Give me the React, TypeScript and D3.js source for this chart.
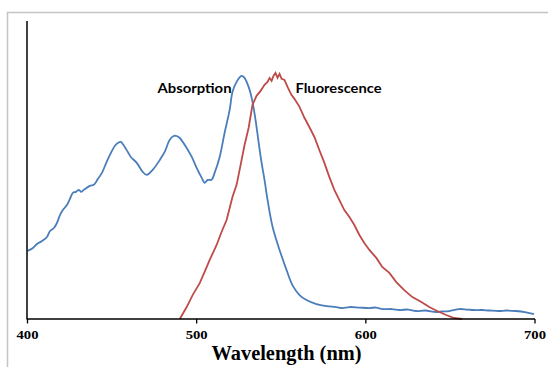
import React from "react";
import * as d3 from "d3";

const xTicks = [400, 500, 600, 700];

const absWavelength = [400, 403.2, 405.6, 408.6, 411.5, 413.3, 415.6, 417.4, 419.2, 420.9, 423.3, 425.1, 426.8, 428.6, 430.4, 431.6, 433.3, 436.9, 439.2, 441.6, 444.0, 446.3, 448.7, 451.6, 453.4, 455.2, 456.3, 459.3, 461.1, 464.6, 468.1, 470.5, 474.0, 478.2, 481.1, 484.0, 486.4, 488.2, 490.0, 494.1, 497.1, 500.0, 503.0, 504.7, 506.5, 508.8, 510.6, 513.6, 516.5, 519.5, 521.2, 523.6, 526.5, 528.3, 531.3, 533.0, 534.8, 536.6, 538.4, 540.1, 541.9, 544.9, 549.0, 553.1, 556.6, 560.8, 564.9, 570.8, 576.7, 582.6, 586.0, 590.3, 596.2, 602.1, 606.0, 610.0, 615.6, 620.0, 625.0, 629.8, 635.0, 641.6, 645.0, 649.3, 655.2, 660.0, 664.0, 668.7, 673.0, 678.8, 683.0, 688.8, 694.0, 699.4];
const absValue = [0.273, 0.285, 0.301, 0.313, 0.329, 0.353, 0.365, 0.385, 0.417, 0.437, 0.457, 0.482, 0.506, 0.510, 0.518, 0.510, 0.518, 0.534, 0.538, 0.562, 0.586, 0.622, 0.658, 0.694, 0.706, 0.710, 0.702, 0.670, 0.650, 0.626, 0.590, 0.578, 0.598, 0.638, 0.670, 0.718, 0.734, 0.734, 0.726, 0.686, 0.650, 0.606, 0.566, 0.546, 0.558, 0.558, 0.586, 0.650, 0.746, 0.839, 0.911, 0.951, 0.975, 0.967, 0.919, 0.871, 0.799, 0.710, 0.626, 0.558, 0.478, 0.369, 0.277, 0.197, 0.136, 0.096, 0.076, 0.060, 0.052, 0.048, 0.044, 0.048, 0.046, 0.044, 0.046, 0.040, 0.040, 0.036, 0.038, 0.032, 0.034, 0.028, 0.030, 0.032, 0.040, 0.038, 0.036, 0.036, 0.034, 0.032, 0.034, 0.032, 0.028, 0.020];

const fluWavelength = [490.0, 494.1, 497.6, 501.8, 504.7, 507.7, 511.8, 514.7, 517.7, 519.5, 521.2, 523.6, 525.4, 528.3, 530.7, 533.0, 535.4, 537.8, 540.1, 541.9, 543.1, 544.3, 545.4, 546.6, 547.8, 549.0, 550.2, 551.9, 553.7, 556.0, 557.8, 560.8, 563.7, 566.6, 569.6, 572.5, 575.5, 578.4, 581.4, 584.3, 587.3, 590.3, 593.2, 596.2, 599.1, 602.1, 606.2, 609.7, 613.9, 618.0, 622.7, 627.5, 632.8, 637.5, 642.2, 647.5, 652.2, 656.9];
const fluValue = [0, 0.048, 0.096, 0.144, 0.189, 0.237, 0.297, 0.349, 0.397, 0.445, 0.490, 0.538, 0.598, 0.698, 0.766, 0.859, 0.895, 0.915, 0.939, 0.951, 0.967, 0.955, 0.975, 0.987, 0.967, 0.983, 0.963, 0.959, 0.931, 0.899, 0.883, 0.851, 0.807, 0.770, 0.730, 0.678, 0.626, 0.570, 0.518, 0.478, 0.437, 0.409, 0.377, 0.337, 0.305, 0.277, 0.245, 0.209, 0.185, 0.148, 0.116, 0.088, 0.068, 0.048, 0.032, 0.016, 0.004, 0];

const labels = ["Absorption", "Fluorescence"];
const xTitle = "Wavelength (nm)";

export default function App() {
  const x = d3.scaleLinear().domain([400, 700]).range([27.5, 535]);
  const y = d3.scaleLinear().domain([0, 1.2]).range([319, 19.8]);

  const absData = absWavelength.map((w, i) => [w, absValue[i]] as [number, number]);
  const fluData = fluWavelength.map((w, i) => [w, fluValue[i]] as [number, number]);

  const absLine = d3
    .line<[number, number]>()
    .x((d) => x(d[0]))
    .y((d) => y(d[1]))
    .curve(d3.curveCatmullRom.alpha(0.5));
  const fluLine = d3
    .line<[number, number]>()
    .x((d) => x(d[0]))
    .y((d) => y(d[1]))
    .curve(d3.curveLinear);

  return (
    <div style={{ position: "absolute", left: 0, top: 0 }}>
      <svg width={548} height={367} style={{ display: "block" }}>
        <rect x={0} y={0} width={548} height={367} fill="#ffffff" />
        <rect x={7.5} y={12.5} width={560} height={370} fill="none" stroke="#c4c4c4" strokeWidth={1.5} />
        <path d={absLine(absData) || ""} fill="none" stroke="#4A7EBB" strokeWidth={1.8} />
        <path d={fluLine(fluData) || ""} fill="none" stroke="#BE4B48" strokeWidth={1.8} />
        <line x1={x(400) - 0.5} x2={x(400) - 0.5} y1={21} y2={y(0)} stroke="#000" strokeWidth={1.5} />
        <line x1={x(400) - 1} x2={x(700)} y1={y(0)} y2={y(0)} stroke="#000" strokeWidth={1.5} />
        {xTicks.map((t) => (
          <g key={t}>
            <line x1={x(t)} x2={x(t)} y1={y(0)} y2={y(0) + 4.5} stroke="#000" strokeWidth={1.3} />
            <text
              x={x(t)}
              y={339}
              textAnchor="middle"
              fontFamily="'Liberation Serif', 'Times New Roman', serif"
              fontWeight="bold"
              fontSize={12.5}
              textLength={22}
              lengthAdjust="spacingAndGlyphs"
              fill="#000"
            >
              {t}
            </text>
          </g>
        ))}
        <text
          x={286.5}
          y={360}
          textAnchor="middle"
          fontFamily="'Liberation Serif', 'Times New Roman', serif"
          fontWeight="bold"
          fontSize={20}
          textLength={150}
          lengthAdjust="spacingAndGlyphs"
          fill="#000"
        >
          {xTitle}
        </text>
        <text
          x={157.5}
          y={92.5}
          fontFamily="Lato, 'Open Sans', sans-serif"
          fontWeight="bold"
          fontSize={13}
          textLength={74}
          lengthAdjust="spacingAndGlyphs"
          fill="#000"
        >
          {labels[0]}
        </text>
        <text
          x={295.5}
          y={92.5}
          fontFamily="Lato, 'Open Sans', sans-serif"
          fontWeight="bold"
          fontSize={13}
          textLength={86}
          lengthAdjust="spacingAndGlyphs"
          fill="#000"
        >
          {labels[1]}
        </text>
      </svg>
    </div>
  );
}
